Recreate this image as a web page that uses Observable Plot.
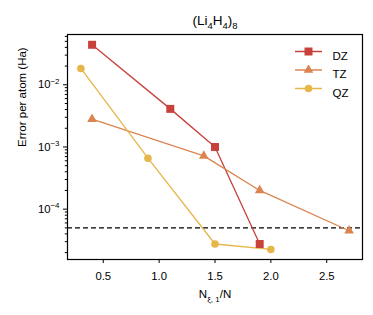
<!DOCTYPE html>
<html><head><meta charset="utf-8">
<script src="https://cdn.jsdelivr.net/npm/d3@7"></script>
<script src="https://cdn.jsdelivr.net/npm/@observablehq/plot@0.6"></script>
<style>body{margin:0;background:#fff} svg{display:block}</style>
</head><body><div id="chart"></div>
<script>
const series = ["DZ","TZ","QZ"];
const colors = ["#c8413a","#db8450","#e6b649"];
const symbols = ["square","triangle","circle"];
const dzX = [0.4, 1.1, 1.5, 1.9];
const dzY = [0.044, 0.0041, 0.001, 2.75e-5];
const tzX = [0.4, 1.4, 1.9, 2.7];
const tzY = [0.0028, 0.00072, 0.0002, 4.5e-5];
const qzX = [0.3, 0.9, 1.5, 2.0];
const qzY = [0.0183, 0.00066, 2.75e-5, 2.25e-5];
const threshold = 5e-5;
const xTicks = [0.5, 1.0, 1.5, 2.0, 2.5];
const yTicks = [1e-4, 1e-3, 1e-2];
const yTickLabels = ["10^{−4}", "10^{−3}", "10^{−2}"];
const title = "(Li_4H_4)_8";
const xLabel = "N_{ξ, 1}/N";
const yLabel = "Error per atom (Ha)";

const markerR = {square: 4.5, triangle: 3.6, circle: 3.8};
const xs = [dzX, tzX, qzX], ys = [dzY, tzY, qzY];
const rows = series.flatMap((s, i) => xs[i].map((x, j) => ({s, x, y: ys[i][j]})));
const yDomain = [1.55e-5, 0.0644];
const yMinor = d3.range(-5, -1).flatMap(e => [2,3,4,5,6,7,8,9].map(m => m * Math.pow(10, e)))
  .filter(v => v > yDomain[0] && v < yDomain[1]);

const lineSymbol = {draw(ctx) { ctx.moveTo(-13.5, 0); ctx.lineTo(13.5, 0); }};
const font = "'Liberation Sans', Arial, Helvetica, sans-serif";

const legend = series.flatMap((s, i) => {
  const dy = 17 + i * 18.5;
  return [
    Plot.dot([s], {frameAnchor: "top-right", dx: -54, dy, symbol: lineSymbol, stroke: colors[i], strokeWidth: 1.5, r: 4}),
    Plot.dot([s], {frameAnchor: "top-right", dx: -54, dy, symbol: symbols[i], fill: colors[i], r: markerR[symbols[i]]}),
    Plot.text([s], {frameAnchor: "top-right", dx: -30, dy, text: d => d, textAnchor: "start", fontSize: 11.5, fill: "black"})
  ];
});

const dots = series.map((s, i) =>
  Plot.dot(rows.filter(d => d.s === s), {x: "x", y: "y", fill: colors[i], symbol: symbols[i], r: markerR[symbols[i]]}));

const chart = Plot.plot({
  width: 373, height: 315,
  marginLeft: 67, marginRight: 11, marginTop: 34, marginBottom: 56,
  style: {fontFamily: font, color: "black", background: "white"},
  x: {domain: [0.18, 2.82]},
  y: {type: "log", domain: yDomain},
  color: {domain: series, range: colors},
  marks: [
    Plot.ruleY([threshold], {stroke: "black", strokeWidth: 1.3, strokeDasharray: "5,3"}),
    Plot.line(rows, {x: "x", y: "y", z: "s", stroke: "s", strokeWidth: 1.3}),
    ...dots,
    Plot.axisX({ticks: xTicks, tickFormat: d => d.toFixed(1), tickSize: 4, tickPadding: 8, fontSize: 11.3, label: null}),
    Plot.axisY({ticks: yTicks, tickFormat: (d) => yTickLabels[yTicks.indexOf(d)], tickSize: 4, tickPadding: 4, fontSize: 11.3, label: null}),
    Plot.axisY({ticks: yMinor, tickFormat: () => "", tickSize: 2.2, label: null}),
    Plot.frame({stroke: "black", strokeWidth: 1.2}),
    Plot.text([title], {text: d => d, frameAnchor: "top", dy: -14, fontSize: 13.5, fill: "black", lineAnchor: "middle"}),
    Plot.text([xLabel], {text: d => d, frameAnchor: "bottom", dy: 35, fontSize: 11.5, fill: "black", lineAnchor: "middle"}),
    Plot.text([yLabel], {text: d => d, frameAnchor: "left", dx: -45, rotate: -90, fontSize: 11.5, fill: "black", lineAnchor: "middle"}),
    ...legend
  ]
});
document.getElementById("chart").appendChild(chart);

// mini markup: _x or _{..} subscripts, ^x or ^{..} superscripts
function toTspans(el) {
  const str = el.textContent;
  if (!/[_^]/.test(str)) return;
  const fs = parseFloat(el.getAttribute("font-size") || getComputedStyle(el).fontSize) || 10;
  const segs = [];
  let i = 0, buf = "";
  while (i < str.length) {
    const c = str[i];
    if (c === "_" || c === "^") {
      if (buf) { segs.push({t: buf, s: 0}); buf = ""; }
      let g;
      if (str[i + 1] === "{") { const j = str.indexOf("}", i); g = str.slice(i + 2, j); i = j + 1; }
      else { g = str[i + 1]; i += 2; }
      segs.push({t: g, s: c === "_" ? fs * 0.3 : -fs * 0.42});
    } else { buf += c; i++; }
  }
  if (buf) segs.push({t: buf, s: 0});
  el.textContent = "";
  let prev = 0;
  const ns = "http://www.w3.org/2000/svg";
  for (const seg of segs) {
    const ts = document.createElementNS(ns, "tspan");
    ts.textContent = seg.t;
    const d = seg.s - prev;
    if (d) ts.setAttribute("dy", d);
    if (seg.s) ts.setAttribute("font-size", fs * 0.7);
    el.appendChild(ts);
    prev = seg.s;
  }
}
chart.querySelectorAll("text").forEach(toTspans);
</script></body></html>
